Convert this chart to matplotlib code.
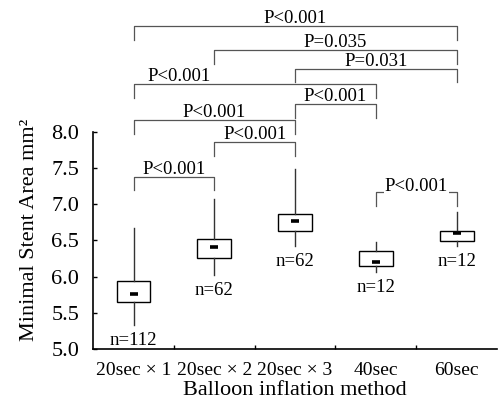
import matplotlib
matplotlib.use('Agg')
import matplotlib.pyplot as plt
from matplotlib.ticker import FixedLocator

# ---- data ----
categories = ["20sec × 1", "20sec × 2", "20sec × 3", "40sec", "60sec"]
medians = [5.76, 6.41, 6.77, 6.20, 6.60]
q1 = [5.65, 6.26, 6.63, 6.15, 6.49]
q3 = [5.94, 6.52, 6.86, 6.35, 6.63]
whisker_low = [5.33, 6.02, 6.42, 6.06, 6.42]
whisker_high = [6.67, 7.07, 7.49, 6.48, 6.89]
n_counts = [112, 62, 62, 12, 12]
comparisons = [(0, 4), (1, 4), (2, 4), (0, 3), (2, 3), (0, 2), (1, 2), (0, 1), (3, 4)]
p_labels = ["P<0.001", "P=0.035", "P=0.031", "P<0.001", "P<0.001",
            "P<0.001", "P<0.001", "P<0.001", "P<0.001"]
yticks = [5.0, 5.5, 6.0, 6.5, 7.0, 7.5, 8.0]

# ---- layout of annotations ----
bracket_y = [9.46, 9.13, 8.87, 8.66, 8.38, 8.16, 7.86, 7.38, 7.17]
label_x = [None, None, None, 0.57, None, None, None, None, None]
label_mask = [False] * 8 + [True]
leg = 0.19

plt.rcParams['font.family'] = ['Liberation Serif', 'DejaVu Serif']

fig = plt.figure(figsize=(4.98, 4.08), dpi=100)
ax = fig.add_axes([0.187, 0.1446, 0.811, 0.5326])

positions = list(range(len(categories)))
stats = []
for k in positions:
    stats.append(dict(med=medians[k], q1=q1[k], q3=q3[k],
                      whislo=whisker_low[k], whishi=whisker_high[k], fliers=[]))
ax.bxp(stats, positions=positions, widths=0.42, showcaps=False, showfliers=False,
       patch_artist=True,
       boxprops=dict(facecolor='white', edgecolor='black', linewidth=1.0),
       whiskerprops=dict(color='#333333', linewidth=1.0),
       medianprops=dict(linewidth=0))
ax.plot(positions, medians, ls='none', marker='_', ms=6, mew=2.6, color='black', zorder=5)

for k in positions:
    ax.annotate(f"n={n_counts[k]}", xy=(k, whisker_low[k]), xytext=(0, -10.8),
                textcoords='offset points', ha='center', va='center', fontsize=13.5)

for (i, j), lab, yb, tx, mask in zip(comparisons, p_labels, bracket_y, label_x, label_mask):
    ax.plot([i, i, j, j], [yb - leg, yb, yb, yb - leg], color='#555555', lw=0.9,
            clip_on=False, zorder=3)
    x = (i + j) / 2 if tx is None else tx
    kw = {}
    dy = 2
    if mask:
        kw['bbox'] = dict(facecolor='white', edgecolor='none', pad=0.5)
        dy = 0.5
    ax.annotate(lab, xy=(x, yb), xytext=(0, dy), textcoords='offset points',
                ha='center', va='baseline', fontsize=13.5, annotation_clip=False,
                zorder=4, **kw)

ax.set_xlim(-0.5, 4.5)
ax.set_ylim(5.0, 8.0)
ax.set_yticks(yticks)
ax.set_yticklabels([f"{v:.1f}" for v in yticks], fontsize=16)
ax.set_xticks(positions)
ax.set_xticklabels(categories, fontsize=14)
ax.xaxis.set_minor_locator(FixedLocator([0.5, 1.5, 2.5, 3.5]))
ax.tick_params(axis='x', which='major', length=0, pad=9)
ax.tick_params(axis='x', which='minor', direction='in', length=3, width=1)
ax.tick_params(axis='y', direction='in', length=3, width=1, pad=10)

for s in ['top', 'right']:
    ax.spines[s].set_visible(False)
for s in ['left', 'bottom']:
    ax.spines[s].set_linewidth(1.2)

ax.set_ylabel("Minimal Stent Area mm²", fontsize=16)
ax.yaxis.set_label_coords(-0.135, 0.55)
ax.set_xlabel("Balloon inflation method", fontsize=16)
ax.xaxis.set_label_coords(0.5, -0.145)

fig.savefig('out.png', dpi=100)
